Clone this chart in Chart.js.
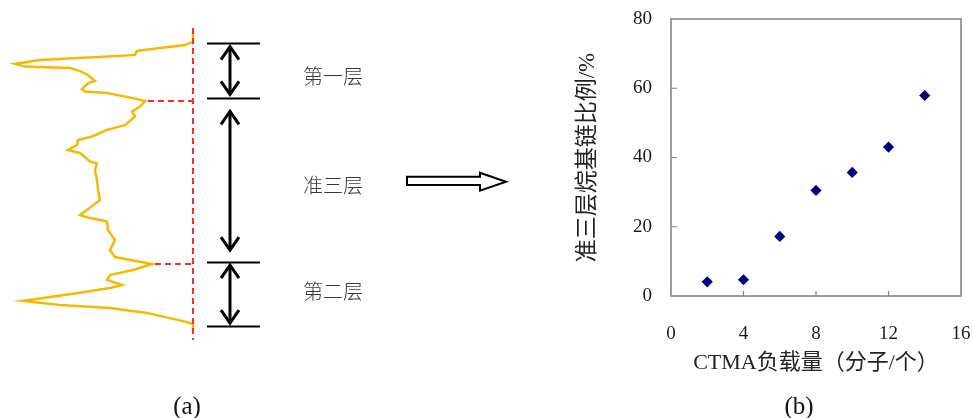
<!DOCTYPE html>
<html><head><meta charset="utf-8">
<script src="https://cdn.jsdelivr.net/npm/chart.js@4/dist/chart.umd.min.js"></script>
<style>
html,body{margin:0;padding:0;background:#fff;}
#wrap{position:relative;width:973px;height:418px;overflow:hidden;background:#fff;}
canvas{position:absolute;top:0;}
#ca{left:0;}
#cb{left:540px;}
svg{position:absolute;left:0;top:0;}
.lbl{position:absolute;font-family:'Noto Sans CJK SC';font-size:20px;color:#3a3a3a;transform:translate(-50%,-50%);white-space:nowrap;font-weight:300;}
.cap{position:absolute;font-family:'Liberation Serif';font-size:25px;color:#111;transform:translate(-50%,-50%);white-space:nowrap;}
</style></head>
<body><div id="wrap">
<canvas id="ca" width="540" height="418" style="width:540px;height:418px"></canvas>
<canvas id="cb" width="433" height="418" style="width:433px;height:418px"></canvas>
<svg width="973" height="418"><polygon points="407,176.7 480,176.7 480,172.7 506,181.7 480,190.7 480,185 407,185" fill="#fff" stroke="#000" stroke-width="2" stroke-linejoin="miter"/></svg>
<div class="lbl" id="l0" style="left:333px;top:75px">第一层</div>
<div class="lbl" id="l1" style="left:333px;top:184px">准三层</div>
<div class="lbl" id="l2" style="left:333px;top:290px">第二层</div>
<div class="cap" style="left:187px;top:406px">(a)</div>
<div class="cap" style="left:799px;top:406px">(b)</div>
</div>
<script>
// ---------- panel (b) data ----------
const ctmaLoading = [2, 4, 6, 8, 10, 12, 14];
const quasiTriRatio = [4.1, 4.7, 17.2, 30.5, 35.7, 43.0, 57.9];
const xTickValues = [0, 4, 8, 12, 16];
const yTickValues = [0, 20, 40, 60, 80];
const xTitle = 'CTMA负载量（分子/个）';
const yTitle = '准三层烷基链比例/%';

// ---------- panel (a) data (schematic density profile) ----------
const profileSignal = [96.5,96.5,92.5,80,68.5,67.5,50,38.5,20,7.5,12.5,35,40,44,47.5,44,41,42.5,53.5,66.5,72.5,70,66,67.5,62.5,53.5,46,39,38.5,34,40,45,48.5,47.5,48.5,49,50,43.5,40,45,53.5,54,57.5,55,57.5,76,66.5,55,53.5,61,55,39,11.5,30,55,73.5,92.5,96.5,96.5];
const profileDepth  = [1.0,4.0,5.0,6.0,7.0,8.3,9.0,9.3,10.0,11.3,12.2,12.7,13.7,15.0,17.0,17.7,19.7,20.5,21.0,22.7,23.7,25.5,27.2,28.8,31.7,33.3,35.5,36.7,38.3,40.0,41.0,43.8,44.5,46.7,50.0,53.3,56.7,60.0,61.7,62.7,63.8,66.7,70.0,73.3,75.7,78.0,80.0,81.7,83.3,85.0,86.0,87.7,90.3,91.7,92.7,94.3,97.2,98.0,100];
const surfaceSignal = 96.5;
const interfacePeakIndex = [20, 45];
const layerBounds = [4.2, 22.8, 77.4, 98.7];
const layerNames = ['第一层', '准三层', '第二层'];

// ---------- chart (a) ----------
const schematicPlugin = {
  id: 'schematic',
  afterDatasetsDraw(chart) {
    const {ctx, scales: {x, y}} = chart;
    ctx.save();
    ctx.strokeStyle = '#ff2a2a';
    ctx.lineWidth = 2;
    ctx.setLineDash([6, 4]);
    const xs = x.getPixelForValue(surfaceSignal);
    ctx.beginPath();
    ctx.moveTo(xs, y.getPixelForValue(-0.7));
    ctx.lineTo(xs, y.getPixelForValue(103.3));
    ctx.stroke();
    interfacePeakIndex.forEach(i => {
      const py = y.getPixelForValue(profileDepth[i]);
      ctx.beginPath();
      ctx.moveTo(x.getPixelForValue(profileSignal[i]) + 3, py);
      ctx.lineTo(xs, py);
      ctx.stroke();
    });
    ctx.setLineDash([]);
    ctx.strokeStyle = '#000';
    ctx.lineWidth = 2;
    const x0 = x.getPixelForValue(103.5), x1 = x.getPixelForValue(130), xa = x.getPixelForValue(115);
    layerBounds.forEach(b => {
      const py = Math.round(y.getPixelForValue(b)) + 0.5;
      ctx.beginPath(); ctx.moveTo(x0, py); ctx.lineTo(x1, py); ctx.stroke();
    });
    const gaps = [[4, 4], [13, 12], [3, 3]];
    ctx.lineWidth = 3;
    ctx.lineJoin = 'miter';
    for (let k = 0; k < layerBounds.length - 1; k++) {
      const ya = y.getPixelForValue(layerBounds[k]) + gaps[k][0];
      const yb = y.getPixelForValue(layerBounds[k + 1]) - gaps[k][1];
      ctx.beginPath(); ctx.moveTo(xa, ya); ctx.lineTo(xa, yb); ctx.stroke();
      const hw = 9, hl = 13;
      ctx.beginPath(); ctx.moveTo(xa - hw, ya + hl); ctx.lineTo(xa, ya); ctx.lineTo(xa + hw, ya + hl); ctx.stroke();
      ctx.beginPath(); ctx.moveTo(xa - hw, yb - hl); ctx.lineTo(xa, yb); ctx.lineTo(xa + hw, yb - hl); ctx.stroke();
    }
    ctx.restore();
  }
};

new Chart(document.getElementById('ca'), {
  type: 'scatter',
  data: {
    datasets: [{
      data: profileSignal.map((v, i) => ({x: v, y: profileDepth[i]})),
      showLine: true,
      borderColor: '#f7b900',
      borderWidth: 2.5,
      pointRadius: 0,
      tension: 0,
      clip: false
    }]
  },
  options: {
    responsive: false,
    animation: false,
    devicePixelRatio: 1,
    layout: {padding: {left: 0, right: 340, top: 30, bottom: 88}},
    plugins: {legend: {display: false}, tooltip: {enabled: false}},
    scales: {
      x: {type: 'linear', min: 0, max: 100, display: false},
      y: {type: 'linear', min: 0, max: 100, reverse: true, display: false}
    }
  },
  plugins: [schematicPlugin]
});

// ---------- chart (b) ----------
const framePlugin = {
  id: 'frame',
  afterDraw(chart) {
    const {ctx, chartArea: a, scales: {x, y}} = chart;
    ctx.save();
    ctx.strokeStyle = '#808080';
    ctx.lineWidth = 1.5;
    ctx.strokeRect(a.left, a.top, a.right - a.left, a.bottom - a.top);
    ctx.lineWidth = 1.2;
    ctx.beginPath();
    xTickValues.slice(1, -1).forEach(v => {
      const px = x.getPixelForValue(v);
      ctx.moveTo(px, a.bottom); ctx.lineTo(px, a.bottom - 5);
    });
    yTickValues.slice(1, -1).forEach(v => {
      const py = y.getPixelForValue(v);
      ctx.moveTo(a.left, py); ctx.lineTo(a.left + 6, py);
    });
    ctx.stroke();
    ctx.restore();
  }
};

const serif = "'Liberation Serif', 'Noto Sans CJK SC', serif";
new Chart(document.getElementById('cb'), {
  type: 'scatter',
  data: {
    datasets: [{
      data: ctmaLoading.map((v, i) => ({x: v, y: quasiTriRatio[i]})),
      pointStyle: 'rectRot',
      pointRadius: 5.6,
      backgroundColor: '#00007f',
      borderColor: '#00007f',
      borderWidth: 0
    }]
  },
  options: {
    responsive: false,
    animation: false,
    devicePixelRatio: 1,
    layout: {padding: {left: 0, right: 12, top: 19, bottom: 42}},
    plugins: {legend: {display: false}, tooltip: {enabled: false}},
    scales: {
      x: {
        type: 'linear', min: 0, max: 16,
        afterBuildTicks: s => { s.ticks = xTickValues.map(v => ({value: v})); },
        afterFit: s => { s.height = 80; s.paddingLeft = 10; s.paddingRight = 10; },
        grid: {display: false, drawTicks: false},
        border: {display: false},
        ticks: {padding: 27, color: '#1a1a1a', font: {family: serif, size: 19}, maxRotation: 0},
        title: {display: true, text: xTitle, color: '#222', font: {family: serif, size: 22}, padding: {top: 0, bottom: 0}}
      },
      y: {
        type: 'linear', min: 0, max: 80,
        afterBuildTicks: s => { s.ticks = yTickValues.map(v => ({value: v})); },
        afterFit: s => { s.width = 131; s.paddingTop = 11; s.paddingBottom = 11; },
        grid: {display: false, drawTicks: false},
        border: {display: false},
        ticks: {padding: 19, color: '#1a1a1a', font: {family: serif, size: 19}},
        title: {display: true, text: yTitle, color: '#222', font: {family: serif, size: 23}, padding: {top: 34, bottom: 0}}
      }
    }
  },
  plugins: [framePlugin]
});
</script>
</body></html>
